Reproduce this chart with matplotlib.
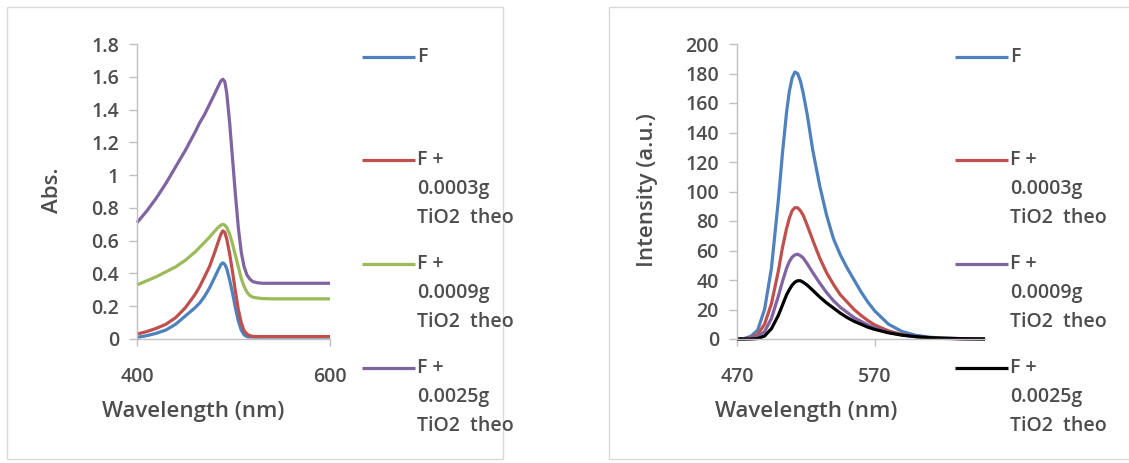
import matplotlib
matplotlib.use("Agg")
import matplotlib.pyplot as plt
from matplotlib.lines import Line2D
from matplotlib.patches import Rectangle

# ---------------- data ----------------
abs_wl = [400, 410, 420, 430, 440, 450, 460, 465, 470, 475, 480, 484, 487, 489, 491,
          493, 496, 499, 502, 505, 508, 511, 514, 517, 520, 525, 530, 540, 560, 580, 600]
abs_F = [0.01, 0.02, 0.035, 0.055, 0.09, 0.14, 0.19, 0.22, 0.26, 0.31, 0.37, 0.42, 0.455, 0.465, 0.455,
         0.43, 0.36, 0.28, 0.19, 0.11, 0.055, 0.025, 0.014, 0.012, 0.012, 0.012, 0.012, 0.012, 0.012, 0.012, 0.012]
abs_0003 = [0.03, 0.045, 0.065, 0.09, 0.13, 0.19, 0.27, 0.32, 0.38, 0.44, 0.52, 0.59, 0.64, 0.66, 0.65,
            0.61, 0.52, 0.41, 0.29, 0.18, 0.10, 0.05, 0.03, 0.02, 0.016, 0.015, 0.015, 0.015, 0.015, 0.015, 0.015]
abs_0009 = [0.33, 0.355, 0.38, 0.41, 0.44, 0.48, 0.53, 0.56, 0.59, 0.62, 0.655, 0.68, 0.695, 0.70, 0.695,
            0.68, 0.64, 0.58, 0.51, 0.44, 0.37, 0.32, 0.285, 0.265, 0.255, 0.25, 0.247, 0.245, 0.245, 0.245, 0.245]
abs_0025 = [0.71, 0.78, 0.86, 0.95, 1.05, 1.15, 1.26, 1.32, 1.37, 1.43, 1.49, 1.54, 1.575, 1.585, 1.57,
            1.50, 1.32, 1.10, 0.88, 0.68, 0.53, 0.44, 0.39, 0.365, 0.35, 0.343, 0.34, 0.34, 0.34, 0.34, 0.34]

fl_wl = [470, 475, 480, 485, 490, 495, 500, 503, 506, 508, 510, 512, 514, 516, 518, 521, 525, 530,
         535, 540, 545, 550, 555, 560, 565, 570, 580, 590, 600, 610, 620, 635, 650]
fl_F = [0, 0.3, 1.8, 6, 20, 48, 94, 126, 154, 168, 177, 181, 180, 175, 167, 152, 128, 104,
        84, 68, 57, 48, 40, 32, 25, 19, 10, 5, 2.5, 1.2, 0.6, 0.2, 0]
fl_0003 = [0, 0.1, 0.8, 3, 10, 24, 46, 62, 75, 82, 87, 89, 89, 87, 84, 77, 67, 55,
           45, 37, 30, 25, 20, 16, 12.5, 9.5, 5.5, 3, 1.6, 0.8, 0.4, 0.15, 0]
fl_0009 = [0, 0, 0.4, 1.5, 5, 14, 29, 39, 48, 52.5, 55.5, 57, 57.5, 56.5, 55, 51, 45, 38,
           31.5, 26, 21.5, 18, 14.5, 12, 9.5, 7.5, 4.5, 2.6, 1.5, 0.8, 0.4, 0.15, 0]
fl_0025 = [0, 0, 0, 0.3, 2, 7, 16, 23, 30, 33.5, 36.5, 38.5, 39.5, 39.5, 38.5, 36.5, 33, 28.5,
           24.5, 21, 17.5, 14.5, 12, 10, 8, 6.5, 4.2, 2.6, 1.6, 0.9, 0.5, 0.2, 0.05]

labels = ["F", "F +\n0.0003g\nTiO2  theo", "F +\n0.0009g\nTiO2  theo", "F +\n0.0025g\nTiO2  theo"]
abs_colors = ["#4F81BD", "#C0504D", "#9BBB59", "#8064A2"]
fl_colors = ["#4F81BD", "#C0504D", "#8064A2", "#000000"]

# ---------------- style ----------------
plt.rcParams['font.family'] = ['Open Sans', 'DejaVu Sans']
plt.rcParams['font.weight'] = 'semibold'
plt.rcParams['axes.labelweight'] = 'semibold'
TXT = "#4D4D4D"
AX = "#BFBFBF"
W, H = 1129, 463
fig = plt.figure(figsize=(W / 100, H / 100), dpi=100)


def fx(px):
    return px / W


def fy(py):
    return 1 - py / H


# panel borders
fig.add_artist(Rectangle((fx(7), fy(459)), fx(496), (452) / H, transform=fig.transFigure,
                         fill=False, edgecolor="#D9D9D9", linewidth=1.0))
fig.add_artist(Rectangle((fx(609), fy(459)), fx(530), (452) / H, transform=fig.transFigure,
                         fill=False, edgecolor="#D9D9D9", linewidth=1.0))


def style_axes(ax):
    for s in ["top", "right"]:
        ax.spines[s].set_visible(False)
    for s in ["left", "bottom"]:
        ax.spines[s].set_color(AX)
        ax.spines[s].set_linewidth(1.0)
    ax.tick_params(axis="y", direction="out", length=6, width=1, color=AX,
                   labelsize=14, labelcolor=TXT, pad=7)
    ax.tick_params(axis="x", direction="out", length=5, width=1, color=AX,
                   labelsize=14, labelcolor=TXT, pad=15)


def ax_rect(x0, x1, ytop, ybot):
    return [fx(x0), fy(ybot), fx(x1) - fx(x0), fy(ytop) - fy(ybot)]


def place_labels(ax, x0, x1, xlab_cx, ylab_right):
    w = x1 - x0
    ax.xaxis.set_label_coords((xlab_cx - x0) / w, -(401 - 339) / (339 - 44))
    ax.yaxis.set_label_coords((ylab_right - x0) / w, (339 - 190) / (339 - 44))


# ---------------- left panel ----------------
ax1 = fig.add_axes(ax_rect(137, 330, 44, 339))
for ys, c in zip([abs_F, abs_0003, abs_0009, abs_0025], abs_colors):
    ax1.plot(abs_wl, ys, color=c, lw=2.3, solid_capstyle="butt", clip_on=False)
ax1.set_xlim(400, 600)
ax1.set_ylim(0, 1.8)
ax1.set_xticks([400, 600])
ax1.set_yticks([0, 0.2, 0.4, 0.6, 0.8, 1.0, 1.2, 1.4, 1.6, 1.8])
ax1.set_yticklabels(["0", "0.2", "0.4", "0.6", "0.8", "1", "1.2", "1.4", "1.6", "1.8"])
style_axes(ax1)
ax1.set_xlabel("Wavelength (nm)", fontsize=16, color=TXT, fontweight="semibold")
ax1.set_ylabel("Abs.", fontsize=16, color=TXT, fontweight="semibold")
place_labels(ax1, 137, 330, 193, 63)

# ---------------- right panel ----------------
ax2 = fig.add_axes(ax_rect(737, 985, 44, 339))
for ys, c in zip([fl_F, fl_0003, fl_0009, fl_0025], fl_colors):
    ax2.plot(fl_wl, ys, color=c, lw=2.3, solid_capstyle="butt", clip_on=False)
ax2.set_xlim(470, 650)
ax2.set_ylim(0, 200)
ax2.set_xticks([470, 570])
ax2.set_yticks(list(range(0, 201, 20)))
style_axes(ax2)
ax2.set_xlabel("Wavelength (nm)", fontsize=16, color=TXT, fontweight="semibold")
ax2.set_ylabel("Intensity (a.u.)", fontsize=16, color=TXT, fontweight="semibold")
place_labels(ax2, 737, 985, 806, 658)

# ---------------- legends ----------------
entry_y = [57, 160, 264, 368]
line_gap = 29


def draw_legend(x0, x1, xt, colors):
    for lab, c, y in zip(labels, colors, entry_y):
        fig.add_artist(Line2D([fx(x0), fx(x1)], [fy(y), fy(y)], transform=fig.transFigure,
                              color=c, lw=2.3, solid_capstyle="butt"))
        for i, part in enumerate(lab.split("\n")):
            fig.text(fx(xt), fy(y + i * line_gap), part, fontsize=14, color=TXT,
                     ha="left", va="center")


draw_legend(362, 415, 417, abs_colors)
draw_legend(955, 1008, 1010, fl_colors)

fig.savefig("out.png", dpi=100, facecolor="white")
